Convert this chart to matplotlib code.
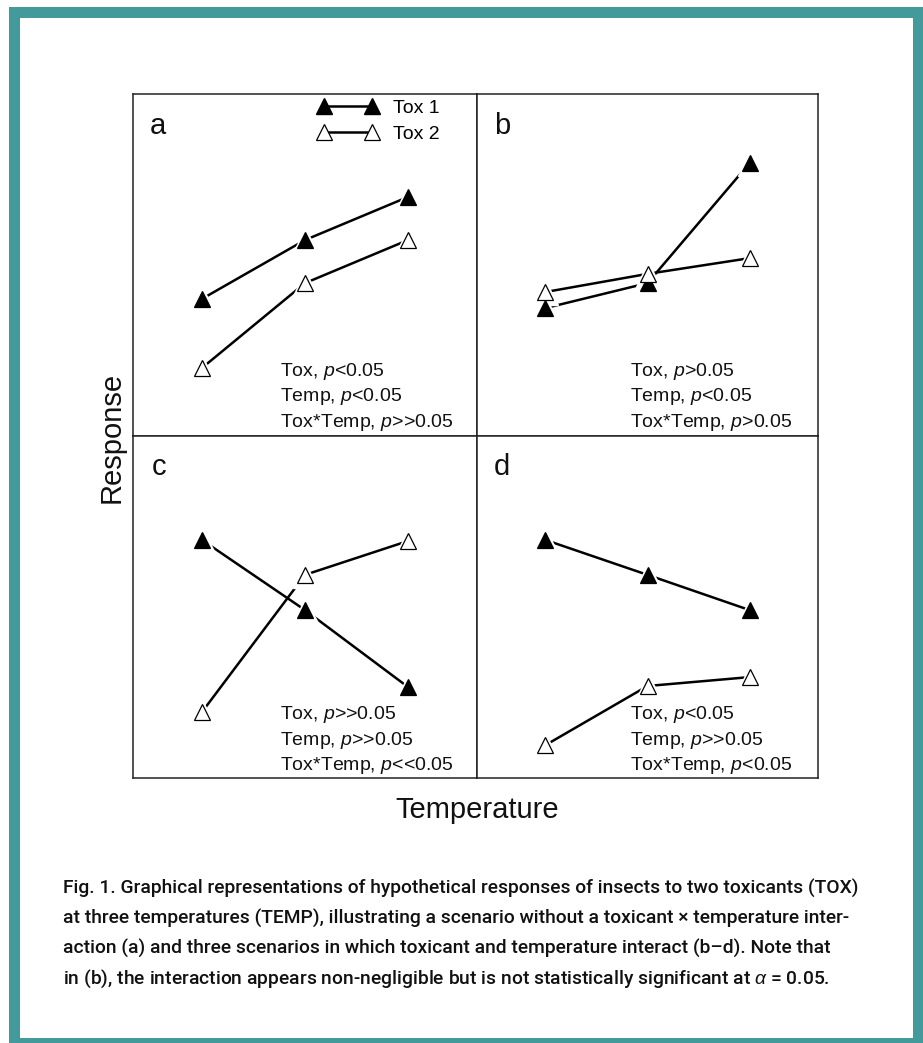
import matplotlib
matplotlib.use("Agg")
import matplotlib.pyplot as plt
from matplotlib.lines import Line2D
from matplotlib.patches import Rectangle

plt.rcParams['font.family'] = ['Liberation Sans', 'DejaVu Sans']
plt.rcParams['mathtext.fontset'] = 'custom'
plt.rcParams['mathtext.it'] = 'Liberation Sans:italic'
plt.rcParams['mathtext.rm'] = 'Liberation Sans'

# ---------------- data ----------------
temps = [1, 2, 3]
panels = ['a', 'b', 'c', 'd']
tox1 = {
    'a': [40.1, 57.3, 69.9],
    'b': [37.4, 44.7, 79.8],
    'c': [69.6, 49.1, 26.6],
    'd': [69.6, 59.4, 49.1],
}
tox2 = {
    'a': [19.9, 44.7, 57.3],
    'b': [42.1, 47.4, 52.0],
    'c': [19.3, 59.4, 69.3],
    'd': [9.6, 26.9, 29.5],
}
stats = {
    'a': ['Tox, $p$<0.05', 'Temp, $p$<0.05', 'Tox*Temp, $p$>>0.05'],
    'b': ['Tox, $p$>0.05', 'Temp, $p$<0.05', 'Tox*Temp, $p$>0.05'],
    'c': ['Tox, $p$>>0.05', 'Temp, $p$>>0.05', 'Tox*Temp, $p$<<0.05'],
    'd': ['Tox, $p$<0.05', 'Temp, $p$>>0.05', 'Tox*Temp, $p$<0.05'],
}
series_labels = ['Tox 1', 'Tox 2']
x_label = 'Temperature'
y_label = 'Response'
caption = [
    "Fig. 1. Graphical representations of hypothetical responses of insects to two toxicants (TOX)",
    "at three temperatures (TEMP), illustrating a scenario without a toxicant \u00d7 temperature inter-",
    "action (a) and three scenarios in which toxicant and temperature interact (b\u2013d). Note that",
    "in (b), the interaction appears non-negligible but is not statistically significant at $\\alpha$ = 0.05.",
]

# ---------------- figure ----------------
W, H = 923, 1043
fig = plt.figure(figsize=(W / 100, H / 100), dpi=100)
fig.patch.set_facecolor('white')

def fx(px):
    return px / W

def fy(py):
    return 1 - py / H

teal = '#429a9b'
fig.add_artist(Rectangle((fx(9), 0), 1, fy(7), transform=fig.transFigure,
                         facecolor=teal, edgecolor='none', zorder=0))
fig.add_artist(Rectangle((fx(20), fy(1038)), fx(913) - fx(20), fy(18) - fy(1038),
                         transform=fig.transFigure, facecolor='white',
                         edgecolor='none', zorder=0.5))

L, R, T, B, M_x, M_y = 133, 818, 94, 778, 477, 436
boxes = {
    'a': (L, T, M_x, M_y),
    'b': (M_x, T, R, M_y),
    'c': (L, M_y, M_x, B),
    'd': (M_x, M_y, R, B),
}
text_x = {'a': 0.427, 'b': 0.448, 'c': 0.427, 'd': 0.448}
text_y = {'a': [0.175, 0.102, 0.026], 'b': [0.175, 0.102, 0.026],
          'c': [0.173, 0.097, 0.023], 'd': [0.173, 0.097, 0.023]}

ms = 12
lw = 1.8
for p in panels:
    x0, y0, x1, y1 = boxes[p]
    ax = fig.add_axes([fx(x0), fy(y1), fx(x1) - fx(x0), fy(y0) - fy(y1)])
    ax.set_zorder(2)
    ax.set_xlim(0.33, 3.67)
    ax.set_ylim(0, 100)
    ax.set_xticks([])
    ax.set_yticks([])
    for s in ax.spines.values():
        s.set_linewidth(1.1)
        s.set_color('#222222')
    for ys, fc in ((tox1[p], 'black'), (tox2[p], 'white')):
        ax.plot(temps, ys, color='black', lw=lw, zorder=2, solid_capstyle='butt')
        ax.plot(temps, ys, ls='', marker='^', ms=ms + 6, color='white',
                mec='white', zorder=2.5)
        ax.plot(temps, ys, ls='', marker='^', ms=ms, mfc=fc, mec='black',
                mew=0.9, zorder=3)
    for t, yy in zip(stats[p], text_y[p]):
        ax.text(text_x[p], yy, t, transform=ax.transAxes, fontsize=14,
                ha='left', va='baseline', color='#111111')
    lx = {'a': 0.05, 'b': 0.05, 'c': 0.055, 'd': 0.049}[p]
    ly = {'a': 0.883, 'b': 0.883, 'c': 0.886, 'd': 0.886}[p]
    ax.text(lx, ly, p, transform=ax.transAxes, fontsize=21, ha='left',
            va='baseline', color='#111111')
    if p == 'a':
        handles = [
            Line2D([], [], color='black', lw=lw, marker='^', ms=11, mfc='black', mec='black'),
            Line2D([], [], color='black', lw=lw, marker='^', ms=11, mfc='white', mec='black', mew=0.9),
        ]
        ax.legend(handles, series_labels, loc='upper left',
                  bbox_to_anchor=(0.538, 0.984), numpoints=2, frameon=False,
                  fontsize=14, handlelength=3.07, handletextpad=0.77,
                  labelspacing=0.42, borderpad=0, borderaxespad=0)

fig.text(fx(112), fy(437), y_label, rotation=90, ha='center', va='center',
         fontsize=21, color='#111111')
fig.text(fx(477), fy(818), x_label, ha='center', va='baseline',
         fontsize=21, color='#111111')

cap_family = ['Roboto', 'DejaVu Sans']
cap_weight = 'medium'
baselines = [894, 924, 954, 984]
# fit caption width to the reference (first line spans ~797 px)
fig.canvas.draw()
renderer = fig.canvas.get_renderer()
probe = fig.text(fx(63), fy(894), caption[0], fontsize=14, family=cap_family,
                 weight=cap_weight)
wpx = probe.get_window_extent(renderer).width
probe.remove()
cap_size = 14 * 797 / wpx
for line, b in zip(caption, baselines):
    fig.text(fx(63), fy(b), line, fontsize=cap_size, family=cap_family,
             weight=cap_weight, ha='left', va='baseline', color='#111111')

fig.savefig('out.png', dpi=100)
